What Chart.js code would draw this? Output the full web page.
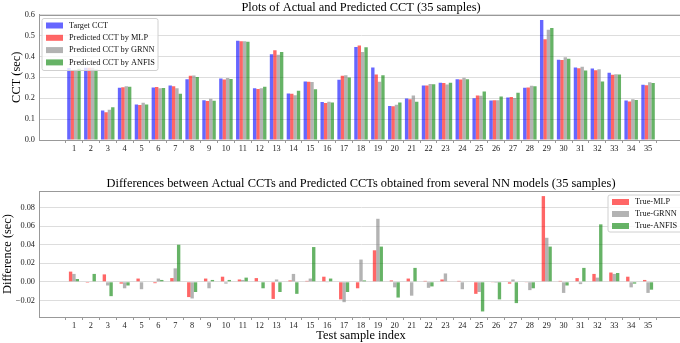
<!DOCTYPE html>
<html>
<head>
<meta charset="utf-8">
<script src="https://cdn.jsdelivr.net/npm/chart.js@4.4.1/dist/chart.umd.min.js"></script>
<style>
  html, body { margin: 0; padding: 0; background: #fff; overflow: hidden; }
  #wrap { position: relative; width: 680px; height: 343px; overflow: hidden; }
  canvas { position: absolute; left: 0; }
</style>
</head>
<body>
<div id="wrap">
  <canvas id="top" width="684" height="165" style="top:0"></canvas>
  <canvas id="bottom" width="684" height="178" style="top:165px"></canvas>
</div>
<script>
// sample index 1..35
const samples = [1, 2, 3, 4, 5, 6, 7, 8, 9, 10, 11, 12, 13, 14, 15, 16, 17, 18, 19, 20,
                 21, 22, 23, 24, 25, 26, 27, 28, 29, 30, 31, 32, 33, 34, 35];

// CCT (sec)
const target = [0.344, 0.345, 0.141, 0.250, 0.170, 0.251, 0.261, 0.290, 0.190, 0.294,
                0.474, 0.248, 0.410, 0.222, 0.280, 0.182, 0.288, 0.445, 0.347, 0.162,
                0.198, 0.261, 0.274, 0.290, 0.200, 0.189, 0.203, 0.250, 0.574, 0.384,
                0.347, 0.342, 0.322, 0.189, 0.264];
const mlp = [0.333, 0.346, 0.133, 0.252, 0.167, 0.253, 0.257, 0.307, 0.187, 0.289,
             0.472, 0.244, 0.429, 0.221, 0.279, 0.177, 0.307, 0.452, 0.313, 0.161,
             0.195, 0.260, 0.272, 0.289, 0.213, 0.190, 0.205, 0.251, 0.482, 0.383,
             0.343, 0.334, 0.312, 0.184, 0.262];
const grnn = [0.336, 0.345, 0.145, 0.257, 0.178, 0.248, 0.247, 0.308, 0.197, 0.296,
              0.472, 0.248, 0.408, 0.214, 0.277, 0.183, 0.310, 0.421, 0.279, 0.168,
              0.213, 0.268, 0.265, 0.298, 0.211, 0.190, 0.201, 0.259, 0.527, 0.396,
              0.350, 0.338, 0.314, 0.195, 0.276];
const anfis = [0.341, 0.337, 0.157, 0.254, 0.170, 0.249, 0.221, 0.301, 0.188, 0.292,
               0.470, 0.255, 0.421, 0.235, 0.243, 0.179, 0.299, 0.444, 0.309, 0.179,
               0.183, 0.266, 0.274, 0.291, 0.232, 0.208, 0.226, 0.257, 0.536, 0.388,
               0.332, 0.280, 0.313, 0.191, 0.273];

// differences (sec)
const diffMlp = [0.011, -0.001, 0.008, -0.002, 0.0035, -0.0015, 0.004, -0.0165, 0.0035, 0.0055,
                 0.0025, 0.004, -0.0185, 0.0015, 0.001, 0.0055, -0.019, -0.007, 0.034, 0.0015,
                 0.0035, 0.001, 0.0025, 0.001, -0.013, -0.0007, -0.002, -0.0007, 0.0925, 0.001,
                 0.004, 0.0085, 0.010, 0.0055, 0.002];
const diffGrnn = [0.0085, 0.0005, -0.004, -0.007, -0.008, 0.0035, 0.0145, -0.018, -0.007, -0.002,
                  0.002, 0.0005, 0.0025, 0.0085, 0.0035, -0.0007, -0.022, 0.024, 0.068, -0.006,
                  -0.015, -0.0065, 0.009, -0.008, -0.011, -0.001, 0.0025, -0.009, 0.0475, -0.012,
                  -0.0025, 0.0045, 0.0085, -0.006, -0.012];
const diffAnfis = [0.003, 0.0085, -0.0155, -0.004, 0.0005, 0.002, 0.040, -0.011, 0.002, 0.002,
                   0.0045, -0.007, -0.011, -0.013, 0.0375, 0.0035, -0.011, 0.0015, 0.038, -0.017,
                   0.015, -0.005, 0.0005, -0.0005, -0.032, -0.019, -0.023, -0.007, 0.038, -0.004,
                   0.015, 0.062, 0.0095, -0.002, -0.0085];

const FONT = '"Liberation Serif", "Times New Roman", serif';
const SPINE = '#999999';
const GRID = '#dddddd';

const pts = vals => vals.map((v, i) => ({x: samples[i], y: v}));

// axes title, top spine and boxed legend, like matplotlib
const boxLegend = {
    id: 'boxLegend',
    afterDraw(chart, args, opts) {
        const ctx = chart.ctx;
        const a = chart.chartArea;
        ctx.save();
        ctx.strokeStyle = SPINE;
        ctx.lineWidth = 1;
        ctx.beginPath();
        ctx.moveTo(a.left, Math.round(a.top) + 0.5);
        ctx.lineTo(a.right, Math.round(a.top) + 0.5);
        ctx.stroke();

        // title centred over the axes, not the canvas
        ctx.font = '12.4px ' + FONT;
        ctx.fillStyle = '#000';
        ctx.textAlign = 'center';
        ctx.textBaseline = 'middle';
        ctx.fillText(opts.title, (a.left + a.right) / 2, a.top - 7);

        const x = a.left + opts.x, y = a.top + opts.y;
        const r = 2;
        ctx.beginPath();
        ctx.moveTo(x + r, y);
        ctx.lineTo(x + opts.w - r, y);
        ctx.arcTo(x + opts.w, y, x + opts.w, y + r, r);
        ctx.lineTo(x + opts.w, y + opts.h - r);
        ctx.arcTo(x + opts.w, y + opts.h, x + opts.w - r, y + opts.h, r);
        ctx.lineTo(x + r, y + opts.h);
        ctx.arcTo(x, y + opts.h, x, y + opts.h - r, r);
        ctx.lineTo(x, y + r);
        ctx.arcTo(x, y, x + r, y, r);
        ctx.closePath();
        ctx.fillStyle = 'rgba(255,255,255,0.8)';
        ctx.fill();
        ctx.strokeStyle = '#d0d0d0';
        ctx.stroke();

        ctx.font = '8.3px ' + FONT;
        ctx.textAlign = 'left';
        chart.data.datasets.forEach((ds, i) => {
            const cy = y + opts.first + i * opts.step;
            ctx.fillStyle = ds.backgroundColor;
            ctx.fillRect(x + 4, cy - 3, 17, 6);
            ctx.fillStyle = '#111';
            ctx.fillText(ds.label, x + 27, cy);
        });
        ctx.restore();
    }
};

function xScale(title) {
    return {
        type: 'linear',
        min: -1.07,
        max: 37.07,
        offset: false,
        afterBuildTicks: axis => {
            axis.ticks = axis.ticks.filter(t => t.value >= 1 && t.value <= 35);
        },
        afterFit: axis => { axis.height = title ? 26 : 25; },
        ticks: {
            stepSize: 1,
            autoSkip: false,
            maxRotation: 0,
            padding: 1,
            color: '#222',
            font: {family: FONT, size: 8.3},
            callback: v => Number.isInteger(v) ? String(v) : ''
        },
        grid: {display: true, drawOnChartArea: false, drawTicks: true, tickLength: 3, color: SPINE},
        border: {color: SPINE},
        title: title ? {
            display: true, text: title, color: '#000',
            font: {family: FONT, size: 12.4, lineHeight: 1},
            padding: {top: 0, bottom: 1}
        } : {display: false}
    };
}

function yScale(opts) {
    return Object.assign({
        afterFit: axis => { axis.width = 39; },
        grid: {color: GRID, drawTicks: false},
        border: {color: SPINE},
    }, opts);
}

Chart.defaults.animation = false;

new Chart(document.getElementById('top'), {
    type: 'bar',
    data: {
        datasets: [
            {label: 'Target CCT', data: pts(target), backgroundColor: 'rgba(0,0,255,0.6)'},
            {label: 'Predicted CCT by MLP', data: pts(mlp), backgroundColor: 'rgba(255,0,0,0.6)'},
            {label: 'Predicted CCT by GRNN', data: pts(grnn), backgroundColor: 'rgba(128,128,128,0.6)'},
            {label: 'Predicted CCT by ANFIS', data: pts(anfis), backgroundColor: 'rgba(0,128,0,0.6)'}
        ]
    },
    options: {
        responsive: false,
        devicePixelRatio: 1,
        categoryPercentage: 0.8,
        barPercentage: 1.0,
        borderWidth: 0,
        layout: {padding: {top: 14.5, right: 1, left: 0, bottom: 0}},
        scales: {
            x: xScale(null),
            y: yScale({
                min: 0, max: 0.6,
                ticks: {stepSize: 0.1, padding: 4, color: '#222',
                        font: {family: FONT, size: 8.3},
                        callback: v => v.toFixed(1)},
                title: {display: true, text: 'CCT (sec)', color: '#000',
                        font: {family: FONT, size: 12.4, lineHeight: 1.2},
                        padding: {top: 9, bottom: 0}}
            })
        },
        plugins: {
            legend: {display: false},
            tooltip: {enabled: false},
            title: {display: false},
            boxLegend: {title: 'Plots of Actual and Predicted CCT (35 samples)',
                        x: 3, y: 4, w: 116, h: 52, first: 7, step: 12.3}
        }
    },
    plugins: [boxLegend]
});

new Chart(document.getElementById('bottom'), {
    type: 'bar',
    data: {
        datasets: [
            {label: 'True-MLP', data: pts(diffMlp), backgroundColor: 'rgba(255,0,0,0.6)'},
            {label: 'True-GRNN', data: pts(diffGrnn), backgroundColor: 'rgba(128,128,128,0.6)'},
            {label: 'True-ANFIS', data: pts(diffAnfis), backgroundColor: 'rgba(0,128,0,0.6)'}
        ]
    },
    options: {
        responsive: false,
        devicePixelRatio: 1,
        categoryPercentage: 0.6,
        barPercentage: 1.0,
        borderWidth: 0,
        layout: {padding: {top: 26, right: 1, left: 0, bottom: 0}},
        scales: {
            x: xScale('Test sample index'),
            y: yScale({
                min: -0.038, max: 0.098,
                ticks: {stepSize: 0.02, includeBounds: false, padding: 4, color: '#222',
                        font: {family: FONT, size: 8.3},
                        callback: v => v.toFixed(2).replace('-', '\u2212')},
                title: {display: true, text: 'Difference (sec)', color: '#000',
                        font: {family: FONT, size: 12.4, lineHeight: 1},
                        padding: {top: 2, bottom: 0}}
            })
        },
        plugins: {
            legend: {display: false},
            tooltip: {enabled: false},
            title: {display: false},
            boxLegend: {title: 'Differences between Actual CCTs and Predicted CCTs obtained from several NN models (35 samples)',
                        x: 569, y: 4, w: 76, h: 37, first: 7, step: 12}
        }
    },
    plugins: [boxLegend]
});
</script>
</body>
</html>
